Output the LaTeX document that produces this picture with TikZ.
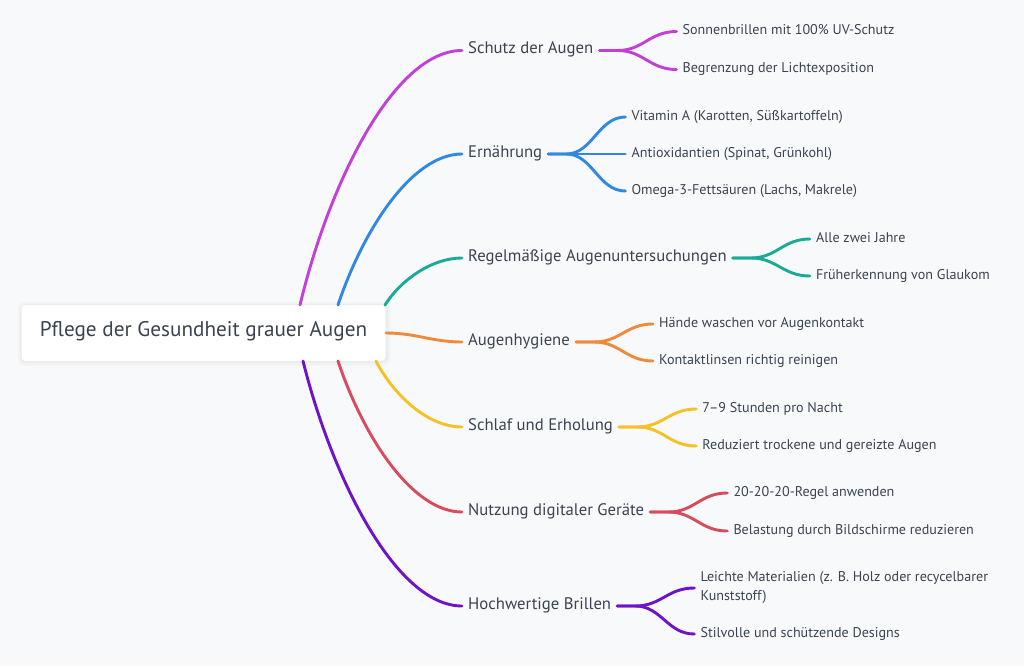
\documentclass[tikz,border=0pt]{standalone}
\usepackage{fontspec}
\setmainfont{PT Sans}
\usetikzlibrary{calc}
\definecolor{bg}{HTML}{F8F9FA}
\definecolor{txt}{HTML}{3C4350}
\definecolor{cA}{HTML}{C23FD8}
\definecolor{cB}{HTML}{3088E0}
\definecolor{cC}{HTML}{1AAA98}
\definecolor{cD}{HTML}{EE8A3A}
\definecolor{cE}{HTML}{F6C026}
\definecolor{cF}{HTML}{D84A5E}
\definecolor{cG}{HTML}{7013C8}
\begin{document}
\begin{tikzpicture}[x=1pt,y=-1pt,line cap=round,
  branch/.style={anchor=west,inner xsep=6pt,inner ysep=0pt,text=txt,text height=0.7em,text depth=0em,font=\fontsize{16.7}{19}\selectfont},
  leaf/.style={anchor=west,inner xsep=6pt,inner ysep=0pt,text=txt,text height=0.7em,text depth=0em,align=left,font=\fontsize{14.1}{19}\selectfont},
  link/.style={line width=2.9pt}]
\useasboundingbox (0,0) rectangle (1024,666);
\fill[bg] (0,0) rectangle (1024,666);
% root
\fill[black,opacity=0.025,rounded corners=7pt] (18,302) rectangle (390,366);
\fill[black,opacity=0.03,rounded corners=5pt] (20,304) rectangle (388,363);
\node[fill=white,rounded corners=4pt,minimum width=364pt,minimum height=56pt,text=txt,text height=0.7em,text depth=0em,font=\fontsize{21.2}{24}\selectfont] (root) at (203.5,333) {Pflege der Gesundheit grauer Augen};
% start points on root
\coordinate (s1) at (300,305);
\coordinate (s2) at (338,305);
\coordinate (s3) at (385,305);
\coordinate (s4) at (386,333);
\coordinate (s5) at (376,361);
\coordinate (s6) at (338,361);
\coordinate (s7) at (303,361);
% branches
\node[branch] (b1) at (462,50.5) {Schutz der Augen};
\node[branch] (b2) at (462,154) {Ernährung};
\node[branch] (b3) at (462,258) {Regelmäßige Augenuntersuchungen};
\node[branch] (b4) at (462,342) {Augenhygiene};
\node[branch] (b5) at (462,427) {Schlaf und Erholung};
\node[branch] (b6) at (462,512) {Nutzung digitaler Geräte};
\node[branch] (b7) at (462,606) {Hochwertige Brillen};
\draw[link,cA] (s1) .. controls +(30,-125) and +(-67,0) .. (b1.west);
\draw[link,cB] (s2) .. controls +(25,-75) and +(-50,0) .. (b2.west);
\draw[link,cC] (s3) .. controls +(15,-24) and +(-31,0) .. (b3.west);
\draw[link,cD] (s4) .. controls +(30,0) and +(-30,0) .. (b4.west);
\draw[link,cE] (s5) .. controls +(17,33) and +(-35,0) .. (b5.west);
\draw[link,cF] (s6) .. controls +(25,75) and +(-50,0) .. (b6.west);
\draw[link,cG] (s7) .. controls +(30,120) and +(-65,0) .. (b7.west);
% leaves
\node[leaf] (l11) at ($(b1.east)+(77,-19)$) {Sonnenbrillen mit 100\% UV-Schutz};
\node[leaf] (l12) at ($(b1.east)+(77,19)$) {Begrenzung der Lichtexposition};
\node[leaf] (l21) at ($(b2.east)+(77,-37)$) {Vitamin A (Karotten, Süßkartoffeln)};
\node[leaf] (l22) at ($(b2.east)+(77,0)$) {Antioxidantien (Spinat, Grünkohl)};
\node[leaf] (l23) at ($(b2.east)+(77,37)$) {Omega-3-Fettsäuren (Lachs, Makrele)};
\node[leaf] (l31) at ($(b3.east)+(77,-19)$) {Alle zwei Jahre};
\node[leaf] (l32) at ($(b3.east)+(77,18)$) {Früherkennung von Glaukom};
\node[leaf] (l41) at ($(b4.east)+(77,-18)$) {Hände waschen vor Augenkontakt};
\node[leaf] (l42) at ($(b4.east)+(77,19)$) {Kontaktlinsen richtig reinigen};
\node[leaf] (l51) at ($(b5.east)+(77,-18)$) {7–9 Stunden pro Nacht};
\node[leaf] (l52) at ($(b5.east)+(77,19)$) {Reduziert trockene und gereizte Augen};
\node[leaf] (l61) at ($(b6.east)+(77,-19)$) {20-20-20-Regel anwenden};
\node[leaf] (l62) at ($(b6.east)+(77,19)$) {Belastung durch Bildschirme reduzieren};
\node[leaf,text height=,text depth=] (l71) at ($(b7.east)+(77,-18)$) {Leichte Materialien (z. B. Holz oder recycelbarer\\Kunststoff)};
\node[leaf] (l72) at ($(b7.east)+(77,28)$) {Stilvolle und schützende Designs};
\foreach \b/\l/\c in {b1/l11/cA,b1/l12/cA,b2/l21/cB,b2/l22/cB,b2/l23/cB,b3/l31/cC,b3/l32/cC,b4/l41/cD,b4/l42/cD,b5/l51/cE,b5/l52/cE,b6/l61/cF,b6/l62/cF,b7/l71/cG,b7/l72/cG}
  \draw[link,\c] (\b.east) -- ++(18,0) .. controls +(26,0) and +(-27,0) .. (\l.west);
\end{tikzpicture}
\end{document}
